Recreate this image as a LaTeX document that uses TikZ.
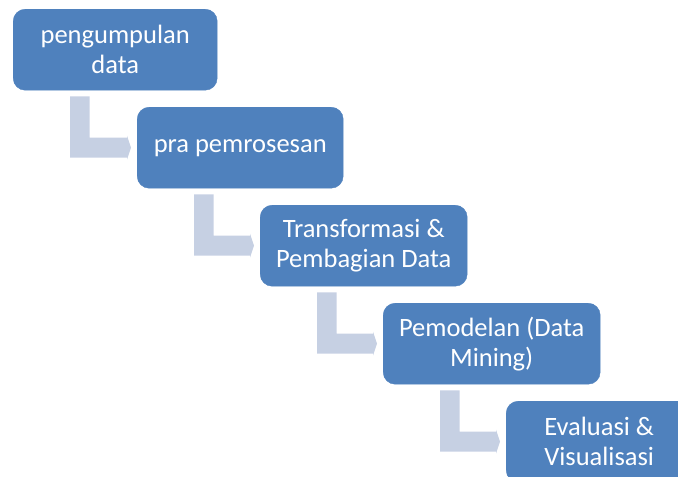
\documentclass[tikz,border=0pt]{standalone}
\usepackage{fontspec}
\setmainfont{Carlito}
\usetikzlibrary{calc}
\definecolor{boxblue}{HTML}{4F81BD}
\definecolor{connblue}{HTML}{C6D0E3}
\tikzset{
  stepbox/.style={draw=boxblue, fill=boxblue, rounded corners=12pt, anchor=north west,
    minimum width=204pt, minimum height=81pt, inner sep=0pt, text=white,
    align=center, font=\fontsize{26.5}{30}\selectfont},
  conn/.style={fill=connblue}
}
\newcommand\stepconn[2]{%
  \fill[conn] let \p1=(#1.south west), \p2=(#2.west) in
    (\x1+57pt,\y1-6pt) -- (\x1+76.5pt,\y1-6pt) -- (\x1+76.5pt,\y2+10pt)
    -- (\x2-10pt,\y2+10pt) -- (\x2-10pt,\y2+12pt) -- (\x2-6pt,\y2)
    -- (\x2-10pt,\y2-12pt) -- (\x2-10pt,\y2-10pt) -- (\x1+57pt,\y2-10pt) -- cycle;}
\begin{document}
\begin{tikzpicture}[x=1pt,y=-1pt]
\useasboundingbox (0,0) rectangle (678,477);
\node[stepbox] (b1) at (13,9) {pengumpulan\\data};
\node[stepbox, minimum width=206pt] (b2) at (137,107) {pra pemrosesan};
\node[stepbox, minimum width=207pt] (b3) at (260,205) {Transformasi \&\\Pembagian Data};
\node[stepbox, minimum width=217pt] (b4) at (383,303) {Pemodelan (Data\\Mining)};
\node[stepbox, minimum width=186pt] (b5) at (506,401) {Evaluasi \&\\Visualisasi};
\stepconn{b1}{b2}
\stepconn{b2}{b3}
\stepconn{b3}{b4}
\stepconn{b4}{b5}
\end{tikzpicture}
\end{document}
